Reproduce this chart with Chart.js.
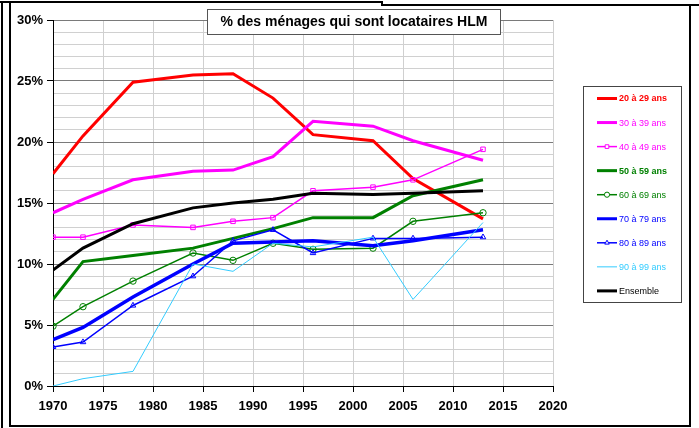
<!DOCTYPE html>
<html>
<head>
<meta charset="utf-8">
<script src="https://cdn.jsdelivr.net/npm/chart.js@4/dist/chart.umd.min.js"></script>
<style>
  html, body { margin: 0; padding: 0; background: #fff; }
  #wrap { position: relative; width: 699px; height: 428px; overflow: hidden; }
  #wrap canvas { position: absolute; left: 0; top: 0; }
  .ln { position: absolute; background: #000; }
</style>
</head>
<body>
<div id="wrap">
  <!-- page frame lines -->
  <div class="ln" style="left:0;top:1px;width:383px;height:2px"></div>
  <div class="ln" style="left:381px;top:1px;width:2px;height:5px"></div>
  <div class="ln" style="left:381px;top:4px;width:318px;height:2px"></div>
  <div class="ln" style="left:1px;top:1px;width:2px;height:427px"></div>
  <div class="ln" style="left:9px;top:1px;width:2px;height:426px"></div>
  <div class="ln" style="left:689px;top:4px;width:2px;height:423px"></div>
  <div class="ln" style="left:9px;top:425px;width:682px;height:2px"></div>
  <canvas id="hlmChart" width="699" height="428"></canvas>
</div>
<script>
// Survey years
const years = [1970, 1973, 1978, 1984, 1988, 1992, 1996, 2002, 2006, 2013];

// % of households renting HLM, by age of household head
const age20 = [17.4, 20.5, 24.9, 25.5, 25.6, 23.6, 20.6, 20.1, 17.0, 13.7];
const age30 = [14.2, 15.3, 16.9, 17.6, 17.7, 18.8, 21.7, 21.3, 20.1, 18.5];
const age40 = [12.2, 12.2, 13.2, 13.0, 13.5, 13.8, 16.0, 16.3, 16.9, 19.4];
const age50 = [7.1, 10.2, 10.7, 11.3, 12.1, 12.9, 13.8, 13.8, 15.6, 16.9];
const age60 = [4.9, 6.5, 8.6, 10.9, 10.3, 11.7, 11.2, 11.3, 13.5, 14.2];
const age70 = [3.8, 4.8, 7.3, 10.0, 11.7, 11.8, 11.9, 11.5, 11.9, 12.8];
const age80 = [3.2, 3.6, 6.6, 9.0, 11.9, 12.8, 10.9, 12.1, 12.1, 12.2];
const age90 = [0.0, 0.6, 1.2, 10.0, 9.4, 11.7, 11.4, 12.2, 7.1, 13.4];
const ensemble = [9.5, 11.3, 13.3, 14.6, 15.0, 15.3, 15.8, 15.7, 15.8, 16.0];

const seriesLabels = ['20 à 29 ans', '30 à 39 ans', '40 à 49 ans', '50 à 59 ans',
  '60 à 69 ans', '70 à 79 ans', '80 à 89 ans', '90 à 99 ans', 'Ensemble'];

const titleText = '% des ménages qui sont locataires HLM';
const FONT = '"Liberation Sans", Arial, sans-serif';

function toPoints(values) {
    return values.map((v, i) => ({ x: years[i], y: v }));
}

function series(label, values, color, width, marker, boldLegend) {
    return {
        label: label,
        data: toPoints(values),
        borderColor: color,
        backgroundColor: '#ffffff',
        borderWidth: width,
        tension: 0,
        fill: false,
        pointStyle: marker || 'circle',
        pointRadius: marker ? 3.2 : 0,
        pointBorderWidth: 1,
        pointBorderColor: color,
        pointBackgroundColor: 'rgba(255,255,255,0)',
        boldLegend: boldLegend
    };
}

// Draw the boxed title and the boxed legend on top of the grid
const boxesPlugin = {
    id: 'boxes',
    afterDraw(chart) {
        const ctx = chart.ctx;
        ctx.save();

        // title box
        ctx.fillStyle = '#ffffff';
        ctx.fillRect(207, 9, 293, 25);
        ctx.strokeStyle = '#555';
        ctx.lineWidth = 1;
        ctx.strokeRect(207.5, 9.5, 293, 25);
        ctx.fillStyle = '#000';
        ctx.font = 'bold 14px ' + FONT;
        ctx.textAlign = 'center';
        ctx.textBaseline = 'middle';
        ctx.fillText(titleText, 354, 22.5);

        // legend box
        ctx.fillStyle = '#ffffff';
        ctx.fillRect(583, 86, 98, 216);
        ctx.strokeStyle = '#444';
        ctx.strokeRect(583.5, 86.5, 98, 216);

        ctx.textAlign = 'left';
        chart.data.datasets.forEach((ds, i) => {
            const y = 98.5 + i * 24.05;
            ctx.strokeStyle = ds.borderColor;
            ctx.lineWidth = Math.min(ds.borderWidth, 3);
            ctx.beginPath();
            ctx.moveTo(597, y);
            ctx.lineTo(617, y);
            ctx.stroke();
            if (ds.pointRadius > 0) {
                ctx.lineWidth = 1;
                ctx.fillStyle = '#ffffff';
                Chart.helpers.drawPoint(ctx, {
                    pointStyle: ds.pointStyle,
                    radius: 2.6,
                    borderWidth: 1
                }, 607, y);
            }
            ctx.fillStyle = ds.borderColor;
            ctx.font = (ds.boldLegend ? 'bold ' : '') + '9px ' + FONT;
            ctx.fillText(ds.label, 619, y + 0.5);
        });
        ctx.restore();
    }
};

const datasets = [
    series(seriesLabels[0], age20, '#ff0000', 3, null, true),
    series(seriesLabels[1], age30, '#ff00ff', 3, null, false),
    series(seriesLabels[2], age40, '#ff00ff', 1.5, 'rect', false),
    series(seriesLabels[3], age50, '#008000', 3, null, true),
    series(seriesLabels[4], age60, '#008000', 1.5, 'circle', false),
    series(seriesLabels[5], age70, '#0000ff', 3.5, null, false),
    series(seriesLabels[6], age80, '#0000ff', 1.5, 'triangle', false),
    series(seriesLabels[7], age90, '#33ccff', 1, null, false),
    series(seriesLabels[8], ensemble, '#000000', 3, null, false)
];
// Excel draws later series on top
datasets.forEach((ds, i) => { ds.order = datasets.length - i; });

new Chart(document.getElementById('hlmChart').getContext('2d'), {
    type: 'line',
    data: { datasets: datasets },
    plugins: [boxesPlugin],
    options: {
        responsive: false,
        animation: false,
        devicePixelRatio: 1,
        layout: { padding: { left: 0, right: 146, top: 20, bottom: 0 } },
        plugins: {
            legend: { display: false },
            title: { display: false },
            tooltip: { enabled: false }
        },
        scales: {
            x: {
                type: 'linear',
                min: 1970,
                max: 2020,
                afterFit: scale => { scale.height = 42; },
                ticks: {
                    stepSize: 5,
                    maxRotation: 0,
                    padding: 7,
                    color: '#000',
                    font: { family: FONT, size: 13, weight: 'bold' },
                    callback: v => String(v)
                },
                grid: {
                    color: '#d0d0d0',
                    lineWidth: 1,
                    tickLength: 6,
                    tickColor: '#000'
                },
                border: { color: '#000', width: 1 }
            },
            y: {
                min: 0,
                max: 30,
                afterFit: scale => { scale.width = 53; },
                ticks: {
                    stepSize: 1,
                    autoSkip: false,
                    padding: 4,
                    color: '#000',
                    font: { family: FONT, size: 13, weight: 'bold' },
                    callback: v => (v % 5 === 0 ? v + '%' : '')
                },
                grid: {
                    color: c => (c.tick && c.tick.value % 5 === 0 ? '#7a7a7a' : '#d0d0d0'),
                    lineWidth: 1,
                    tickLength: 6,
                    tickColor: c => (c.tick && c.tick.value % 5 === 0 ? '#000' : 'rgba(0,0,0,0)')
                },
                border: { color: '#000', width: 1 }
            }
        }
    }
});
</script>
</body>
</html>
